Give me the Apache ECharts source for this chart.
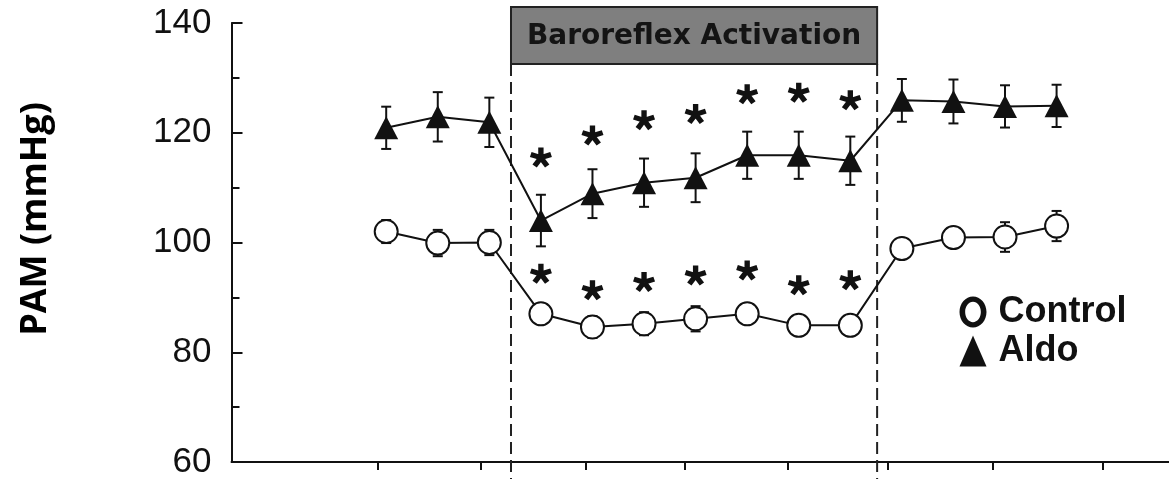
<!DOCTYPE html>
<html>
<head>
<meta charset="utf-8">
<script src="https://cdn.jsdelivr.net/npm/echarts@6/dist/echarts.min.js"></script>
<style>
html,body{margin:0;padding:0;background:#fff;}
#chart{width:1169px;height:479px;}
</style>
</head>
<body>
<div id="chart"></div>
<script>
// ---- data ----
const timePoints = [1,2,3,4,5,6,7,8,9,10,11,12,13,14];
const controlMean = [102.0, 99.9, 100.0, 87.0, 84.6, 85.2, 86.1, 87.0, 84.9, 84.9, 98.9, 100.9, 101.0, 103.0];
const controlErr  = [2.1, 2.4, 2.3, 1.6, 2.0, 2.1, 2.3, 1.5, 1.5, 1.5, 1.0, 1.0, 2.7, 2.75];
const aldoMean = [120.9, 122.9, 121.9, 104.0, 108.9, 110.9, 111.8, 115.9, 115.9, 114.9, 125.9, 125.7, 124.8, 124.9];
const aldoErr  = [3.85, 4.5, 4.5, 4.7, 4.45, 4.4, 4.45, 4.3, 4.3, 4.4, 3.9, 4.0, 3.85, 3.85];
const sigPoints = [4,5,6,7,8,9,10];
const aldoStarY = [115.5, 119.5, 122.3, 123.4, 127.0, 127.3, 125.9];
const controlStarY = [94.3, 91.3, 92.8, 94.0, 94.9, 92.2, 93.1];
const xTickValues = [0.83, 2.84, 4.86, 6.78, 8.79, 10.73, 12.77, 14.9];
const activationPeriod = [3.42, 10.52];
const activationLabel = 'Baroreflex Activation';
const seriesNames = ['Control', 'Aldo'];
const yAxisTitle = 'PAM (mmHg)';

// ---- helpers ----
function asteriskPath(){
  let d = '';
  const L = 10, w = 2.5;
  for (let k = 0; k < 5; k++){
    const a = (-90 + 72*k) * Math.PI/180;
    const dx = Math.cos(a), dy = Math.sin(a);
    const px = -dy, py = dx;
    const pts = [
      [px*w, py*w],
      [px*w + dx*L, py*w + dy*L],
      [-px*w + dx*L, -py*w + dy*L],
      [-px*w, -py*w]
    ];
    d += 'M' + pts.map(p => (p[0]+20).toFixed(3)+','+(p[1]+20).toFixed(3)).join('L') + 'Z';
  }
  return 'path://' + d;
}
const STAR = asteriskPath();
const RING = 'path://M0,12.5C0,5.6 4.92,0 11,0C17.08,0 22,5.6 22,12.5C22,19.4 17.08,25 11,25C4.92,25 0,19.4 0,12.5Z' +
             'M4.6,12.5C4.6,17.03 7.47,20.7 11,20.7C14.53,20.7 17.4,17.03 17.4,12.5C17.4,7.97 14.53,4.3 11,4.3C7.47,4.3 4.6,7.97 4.6,12.5Z';
const INK = '#111';

function errData(means, errs){ return timePoints.map((t,i)=>[t, means[i], errs[i]]); }
function errRender(params, api){
  const x = api.value(0), m = api.value(1), e = api.value(2);
  const hi = api.coord([x, m+e]);
  const lo = api.coord([x, m-e]);
  const cw = 5;
  const st = {stroke: INK, lineWidth: 2};
  return {type:'group', children:[
    {type:'line', shape:{x1:hi[0], y1:hi[1], x2:lo[0], y2:lo[1]}, style:st},
    {type:'line', shape:{x1:hi[0]-cw, y1:hi[1], x2:hi[0]+cw, y2:hi[1]}, style:st},
    {type:'line', shape:{x1:lo[0]-cw, y1:lo[1], x2:lo[0]+cw, y2:lo[1]}, style:st}
  ]};
}

const chart = echarts.init(document.getElementById('chart'), null, {renderer:'canvas'});
const option = {
  backgroundColor:'#fff',
  animation:false,
  grid:{left:231.5, right:0, top:23, bottom:17, containLabel:false, outerBoundsMode:'none'},
  xAxis:{
    type:'value', min:-2, max:16.18,
    axisLine:{show:true, onZero:false, lineStyle:{color:INK, width:2}},
    axisTick:{show:true, length:8, lineStyle:{color:INK, width:2}, customValues:xTickValues},
    axisLabel:{show:false},
    splitLine:{show:false}
  },
  yAxis:{
    type:'value', min:60, max:140, interval:20,
    axisLine:{show:true, onZero:false, lineStyle:{color:INK, width:2}},
    axisTick:{show:true, inside:true, length:11, lineStyle:{color:INK, width:2}},
    minorTick:{show:true, splitNumber:2, length:8, lineStyle:{color:INK, width:2}},
    axisLabel:{margin:20, fontFamily:'"Liberation Sans", Arial, sans-serif', fontSize:35, color:'#111'},
    splitLine:{show:false}
  },
  legend:{
    orient:'vertical', left:954.5, top:289, itemWidth:27, itemHeight:31, itemGap:3,
    selectedMode:false, symbolKeepAspect:false,
    textStyle:{fontFamily:'"Liberation Sans", Arial, sans-serif', fontSize:36, fontWeight:'bold', color:INK, lineHeight:36, padding:[0,0,0,7]},
    data:[
      {name:seriesNames[0], icon:RING, itemStyle:{color:INK, borderWidth:0}},
      {name:seriesNames[1], icon:'triangle', itemStyle:{color:INK, borderWidth:0}}
    ]
  },
  graphic:[{
    type:'text', x:36, y:219, rotation:Math.PI/2,
    style:{text:yAxisTitle, font:'bold 36px "Open Sans", sans-serif', fill:'#000', align:'center', verticalAlign:'middle'}
  }],
  series:[
    { // activation box + dashed boundaries
      type:'custom', name:'activation', clip:false, silent:true, z:1,
      data:[activationPeriod],
      renderItem:function(params, api){
        const a = api.coord([api.value(0), 140]);
        const b = api.coord([api.value(1), 140]);
        const gridTop = a[1];
        const boxTop = gridTop - 16, boxBot = gridTop + 41;
        const bottom = api.getHeight();
        const dash = {stroke:'#222', lineWidth:2, lineDash:[12,6]};
        return {type:'group', children:[
          {type:'rect', shape:{x:a[0], y:boxTop, width:b[0]-a[0], height:boxBot-boxTop},
           style:{fill:'#7f7f7f', stroke:'#222', lineWidth:2}},
          {type:'text', x:(a[0]+b[0])/2, y:(boxTop+boxBot)/2+1,
           style:{text:activationLabel, font:'bold 28px "DejaVu Sans", sans-serif', fill:'#141414', align:'center', verticalAlign:'middle'}},
          {type:'line', shape:{x1:a[0], y1:boxBot, x2:a[0], y2:bottom}, style:dash},
          {type:'line', shape:{x1:b[0], y1:boxBot, x2:b[0], y2:bottom}, style:dash}
        ]};
      }
    },
    {type:'custom', name:'ctrlErr', z:3, silent:true, data:errData(controlMean, controlErr), renderItem:errRender},
    {type:'custom', name:'aldoErr', z:3, silent:true, data:errData(aldoMean, aldoErr), renderItem:errRender},
    {
      type:'line', name:seriesNames[0], z:5,
      data:timePoints.map((t,i)=>[t, controlMean[i]]),
      symbol:'circle', symbolSize:23, showAllSymbol:true,
      lineStyle:{color:INK, width:2},
      itemStyle:{color:'#fff', borderColor:INK, borderWidth:2}
    },
    {
      type:'line', name:seriesNames[1], z:5,
      data:timePoints.map((t,i)=>[t, aldoMean[i]]),
      symbol:'triangle', symbolSize:[24,23], showAllSymbol:true,
      lineStyle:{color:INK, width:2},
      itemStyle:{color:INK}
    },
    {
      type:'scatter', name:'sigAldo', z:6, silent:true,
      symbol:STAR, symbolSize:[22,20],
      itemStyle:{color:INK, opacity:1},
      data:sigPoints.map((t,i)=>[t, aldoStarY[i]])
    },
    {
      type:'scatter', name:'sigCtrl', z:6, silent:true,
      symbol:STAR, symbolSize:[22,20],
      itemStyle:{color:INK, opacity:1},
      data:sigPoints.map((t,i)=>[t, controlStarY[i]])
    }
  ]
};
chart.setOption(option);
</script>
</body>
</html>
